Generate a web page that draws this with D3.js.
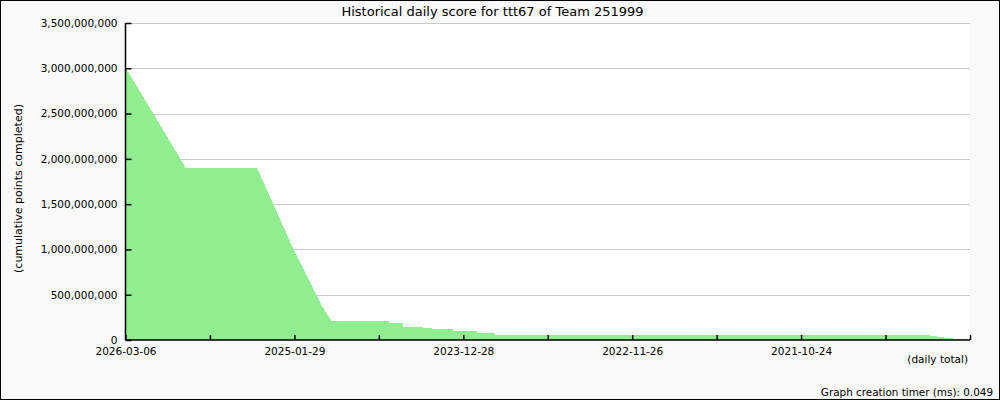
<!DOCTYPE html>
<html>
<head>
<meta charset="utf-8">
<script src="https://cdn.jsdelivr.net/npm/d3@7"></script>
<style>
  body { margin: 0; }
  svg { display: block; font-family: "DejaVu Sans", sans-serif; }
</style>
</head>
<body>
<div id="vis"></div>
<script>
// day index (0 = most recent day) and cumulative score at that day
const DAYS = [0, 66, 130, 142, 312, 331, 350, 374, 398, 426, 452, 466, 478, 488,
              625, 625, 658, 658, 705, 705, 727, 727, 776, 776, 833, 833, 876, 876,
              1905, 1905, 1922, 1922, 1938, 1938, 1960, 1960, 1976, 1976, 1993, 1993, 2000];
const SCORES = [3010e6, 2500e6, 2000e6, 1900e6, 1900e6, 1700e6, 1500e6, 1250e6, 1000e6, 740e6, 500e6, 370e6, 280e6, 210e6,
                210e6, 188e6, 188e6, 147e6, 147e6, 129e6, 129e6, 118e6, 118e6, 99e6, 99e6, 74e6, 74e6, 57e6,
                57e6, 47e6, 47e6, 36e6, 36e6, 25e6, 25e6, 14e6, 14e6, 7e6, 7e6, 0, 0];

// x tick positions (day index) and their labels
const X_TICKS = [0, 200, 400, 600, 800, 1000, 1200, 1400, 1600, 1800, 2000];
const X_TICK_LABELS = ["2026-03-06", "", "2025-01-29", "", "2023-12-28", "", "2022-11-26", "", "2021-10-24", "", ""];
const Y_TICKS = [0, 500e6, 1000e6, 1500e6, 2000e6, 2500e6, 3000e6, 3500e6];

const FRAME_WIDTH = 1000;
const FRAME_HEIGHT = 400;
const MARGINS = {left: 125.5, right: 30, top: 23, bottom: 60};
const VIS_WIDTH = FRAME_WIDTH - MARGINS.left - MARGINS.right;
const VIS_HEIGHT = FRAME_HEIGHT - MARGINS.top - MARGINS.bottom;

const FRAME = d3.select("#vis")
  .append("svg")
  .attr("width", FRAME_WIDTH)
  .attr("height", FRAME_HEIGHT);

// page background and border
FRAME.append("rect")
  .attr("x", 0.5).attr("y", 0.5)
  .attr("width", FRAME_WIDTH - 1).attr("height", FRAME_HEIGHT - 1)
  .attr("fill", "#f9f9f9")
  .attr("stroke", "#000");

const X_SCALE = d3.scaleLinear().domain([0, 2000]).range([0, VIS_WIDTH]);
const Y_SCALE = d3.scaleLinear().domain([0, 3500e6]).range([VIS_HEIGHT, 0]);

const PLOT = FRAME.append("g")
  .attr("transform", "translate(" + MARGINS.left + "," + MARGINS.top + ")");

// white plot area
PLOT.append("rect")
  .attr("width", VIS_WIDTH).attr("height", VIS_HEIGHT)
  .attr("fill", "#fff");

// horizontal grid lines
PLOT.selectAll(".grid")
  .data(Y_TICKS.slice(1))
  .enter()
  .append("line")
  .attr("x1", 0).attr("x2", VIS_WIDTH)
  .attr("y1", (d) => Math.round(Y_SCALE(d)) + 0.5)
  .attr("y2", (d) => Math.round(Y_SCALE(d)) + 0.5)
  .attr("stroke", "#c8c8c8");

// score area
const AREA = d3.area()
  .x((d, i) => X_SCALE(DAYS[i]))
  .y0(Y_SCALE(0))
  .y1((d) => Y_SCALE(d));

PLOT.append("path")
  .datum(SCORES)
  .attr("d", AREA)
  .attr("fill", "#90ee90")
  .attr("shape-rendering", "crispEdges");

// x axis
const X_AXIS = PLOT.append("g")
  .attr("transform", "translate(0," + VIS_HEIGHT + ")")
  .call(d3.axisBottom(X_SCALE)
    .tickValues(X_TICKS)
    .tickSize(-5)
    .tickPadding(8)
    .tickFormat((d, i) => X_TICK_LABELS[i]));

// y axis
const Y_AXIS = PLOT.append("g")
  .call(d3.axisLeft(Y_SCALE)
    .tickValues(Y_TICKS)
    .tickSize(-6)
    .tickPadding(8)
    .tickFormat(d3.format(",")));

[X_AXIS, Y_AXIS].forEach((ax) => {
  ax.attr("font-family", "DejaVu Sans, sans-serif").attr("font-size", "10.5px");
  ax.selectAll("path").attr("stroke", "#000").attr("stroke-width", 1.5);
  ax.selectAll("line").attr("stroke", "#000").attr("stroke-width", 1.5);
  ax.selectAll("text").attr("fill", "#000");
});
X_AXIS.select(".domain").attr("d", "M0,0H" + VIS_WIDTH);
Y_AXIS.select(".domain").attr("d", "M0,0V" + VIS_HEIGHT);

// title and labels
FRAME.append("text")
  .attr("x", 492.5).attr("y", 16)
  .attr("text-anchor", "middle")
  .attr("font-size", "13px")
  .text("Historical daily score for ttt67 of Team 251999");

FRAME.append("text")
  .attr("transform", "translate(22,188.5) rotate(-90)")
  .attr("text-anchor", "middle")
  .attr("font-size", "11px")
  .text("(cumulative points completed)");

FRAME.append("text")
  .attr("x", 968).attr("y", 363)
  .attr("text-anchor", "end")
  .attr("font-size", "10.5px")
  .text("(daily total)");

FRAME.append("text")
  .attr("x", 993).attr("y", 396)
  .attr("text-anchor", "end")
  .attr("font-size", "10.4px")
  .text("Graph creation timer (ms): 0.049");
</script>
</body>
</html>
